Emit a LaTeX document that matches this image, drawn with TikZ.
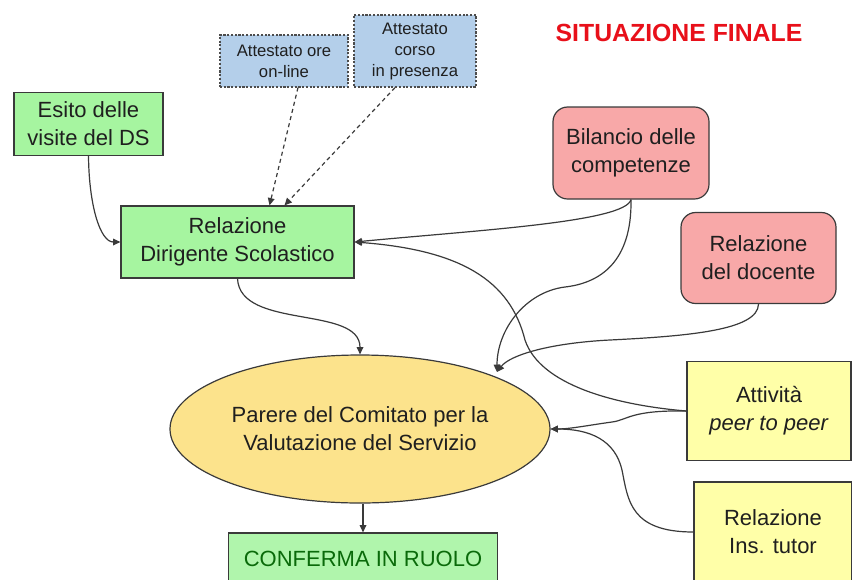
\documentclass[tikz,border=0pt]{standalone}
\usepackage{fontspec}
\setmainfont{Liberation Sans}
\usetikzlibrary{arrows.meta,calc,shapes.geometric}
\definecolor{bluefill}{HTML}{B4CFEA}
\definecolor{greenfill}{HTML}{A6F5A0}
\definecolor{greenlight}{HTML}{B0F5AC}
\definecolor{pinkfill}{HTML}{F8A8A8}
\definecolor{ellfill}{HTML}{FCE38C}
\definecolor{yelfill}{HTML}{FFFFA8}
\definecolor{edgecol}{HTML}{3A3A3A}
\definecolor{titlered}{HTML}{E8101A}
\definecolor{darkgreen}{HTML}{0A6A0A}
\tikzset{
  base/.style={draw=edgecol, line width=0.9pt, text=black!88, align=center, inner sep=0pt,
    font=\fontsize{16.5}{21}\selectfont},
  smallbox/.style={base, fill=bluefill, draw=black!70, dash pattern=on 1.6pt off 1.2pt,
    font=\fontsize{12.5}{15.75}\selectfont},
  greenbox/.style={base, fill=greenfill},
  pinkbox/.style={base, fill=pinkfill, rounded corners=11pt},
  yelbox/.style={base, fill=yelfill},
  conn/.style={draw=edgecol, line width=0.9pt, -{Triangle[length=5.5pt,width=5pt]}},
  dconn/.style={conn, dash pattern=on 3pt off 2.5pt},
}
\begin{document}
\begin{tikzpicture}[x=0.75pt,y=-0.75pt]
\useasboundingbox (0,0) rectangle (852,579);
\clip (0,0) rectangle (852,579);

\node[font=\bfseries\fontsize{18.6}{22}\selectfont, text=titlered] (title) at (679,33) {SITUAZIONE FINALE};

\node[smallbox, minimum width=96pt, minimum height=39pt] (ore) at (284,61) {Attestato ore\\on-line};
\node[smallbox, minimum width=91.5pt, minimum height=54pt] (corso) at (415,51) {Attestato\\corso\\in presenza};

\node[greenbox, minimum width=111.75pt, minimum height=47.25pt] (esito) at (88.5,124) {Esito delle\\visite del DS};
\node[greenbox, minimum width=174.75pt, minimum height=54pt] (rds) at (237.5,242) {Relazione\\Dirigente Scolastico};

\node[pinkbox, minimum width=117pt, minimum height=69pt] (bil) at (631,153) {Bilancio delle\\competenze};
\node[pinkbox, minimum width=116.25pt, minimum height=68.25pt] (doc) at (758.5,258) {Relazione\\del docente};

\node[base, ellipse, fill=ellfill, minimum width=285pt, minimum height=111pt] (ell) at (360,429) {Parere del Comitato per la\\Valutazione del Servizio};

\node[yelbox, minimum width=123pt, minimum height=74.25pt] (att) at (769,411) {Attività\\\textit{peer to peer}};
\node[yelbox, minimum width=118.5pt, minimum height=75pt] (tut) at (773,532) {Relazione\\Ins. tutor};

\node[base, fill=greenlight, text=darkgreen, minimum width=201.75pt, minimum height=39pt] (conf) at (363,559) {CONFERMA IN RUOLO};

\coordinate (ellin) at (497,372);

% dashed connectors
\draw[dconn] ($(ore.south)+(14,0)$) -- ($(rds.north)+(32,0)$);
\draw[dconn] ($(corso.south)+(-20,0)$) -- ($(rds.north)+(47,0)$);

% solid connectors
\draw[conn] (esito.south) .. controls (89,205) and (100,242) .. (rds.west);
\draw[conn] (bil.south) .. controls (625,222) and (480,230) .. (rds.east);
\draw[conn] (bil.south) .. controls (632,262) and (600,283) .. (565,287) .. controls (525,292) and (497,330) .. (ellin);
\draw[conn] (doc.south) .. controls (758,330) and (690,336) .. (610,340) .. controls (550,343) and (510,355) .. (ellin);
\draw[conn] (att.west) .. controls (615,405) and (540,385) .. (525,340) .. controls (510,280) and (460,250) .. (rds.east);
\draw[conn] (att.west) .. controls (630,410) and (628,420) .. (612,422) .. controls (590,425) and (570,429) .. (ell.east);
\draw[conn] (tut.west) .. controls (630,532) and (628,500) .. (622,470) .. controls (615,440) and (590,429) .. (ell.east);
\draw[conn] (rds.south) .. controls (240,330) and (360,305) .. (ell.north);
\draw[conn] (ell.south -| conf.north) -- (conf.north);
\end{tikzpicture}
\end{document}
